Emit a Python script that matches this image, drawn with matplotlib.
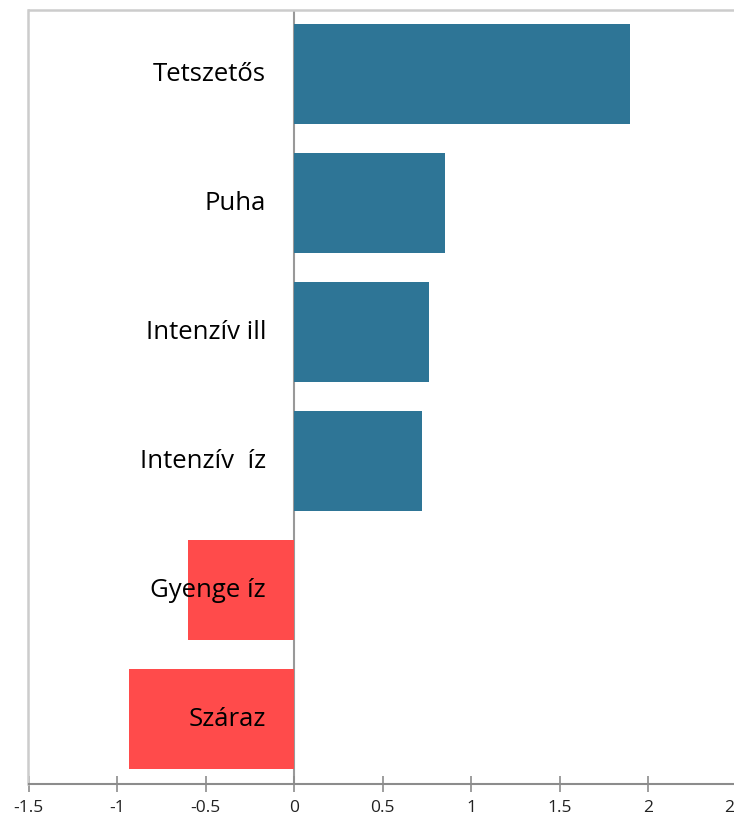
import matplotlib
matplotlib.use('Agg')
import matplotlib.pyplot as plt

categories = ['Tetszetős', 'Puha', 'Intenzív ill', 'Intenzív  íz', 'Gyenge íz', 'Száraz']
values = [1.90, 0.855, 0.763, 0.723, -0.60, -0.93]
xticks = [-1.5, -1, -0.5, 0, 0.5, 1, 1.5, 2, 2.5]
xtick_labels = ['-1.5', '-1', '-0.5', '0', '0.5', '1', '1.5', '2', '2.5']

pos_color = '#2e7596'
neg_color = '#ff4b4b'

plt.rcParams['font.family'] = ['Open Sans', 'DejaVu Sans']

fig = plt.figure(figsize=(7.34, 8.19), dpi=100)
# axes spans a bit past the right edge, like the source
ax = fig.add_axes([28.5 / 734, 1 - 784 / 819, (736.5 - 28.5) / 734, (784 - 9.5) / 819])

ypos = list(range(len(categories)))
colors = [pos_color if v >= 0 else neg_color for v in values]
ax.barh(ypos, values, height=0.775, color=colors, zorder=2)

ax.set_ylim(len(categories) - 0.5, -0.5)
ax.set_xlim(-1.5, 2.5)

# category labels left of zero
for y, name in zip(ypos, categories):
    ax.text(-0.158, y, name, ha='right', va='center', fontsize=18.5,
            color='black', zorder=3)

# zero line
ax.axvline(0, color='#999999', lw=1.5, zorder=1)

ax.set_yticks([])
ax.set_xticks(xticks)
ax.set_xticklabels(xtick_labels, fontsize=12.5)
ax.tick_params(axis='x', direction='inout', length=11, width=1.2,
               color='#8c8c8c', pad=6, labelcolor='#222222')

for side in ['left', 'top', 'right']:
    ax.spines[side].set_color('#cccccc')
    ax.spines[side].set_linewidth(1.8)
ax.spines['bottom'].set_color('#8c8c8c')
ax.spines['bottom'].set_linewidth(1.5)

fig.savefig('out.png', dpi=100)
